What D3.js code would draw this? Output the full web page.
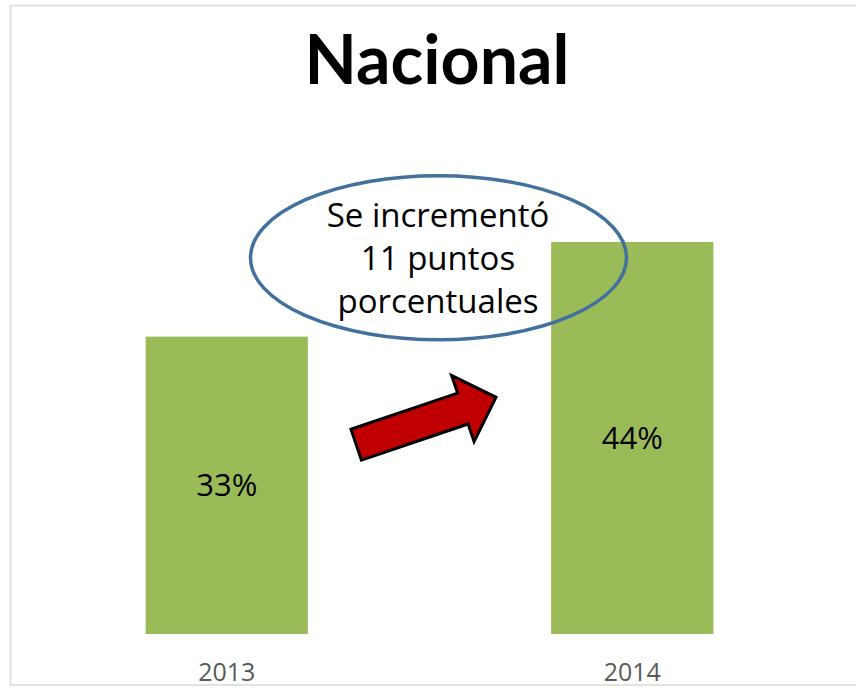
<!DOCTYPE html>
<html>
<head>
<meta charset="utf-8">
<script src="https://cdn.jsdelivr.net/npm/d3@7"></script>
<style>
  html, body { margin: 0; padding: 0; background: #fff; }
  svg { display: block; }
</style>
</head>
<body>
<svg id="chart" width="856" height="688"></svg>
<script>
// ---- data ----
const title = "Nacional";
const categories = ["2013", "2014"];
const values = [33.3, 43.9];          // percent
const valueLabels = ["33%", "44%"];
const noteLines = ["Se incrementó", "11 puntos", "porcentuales"];

// ---- layout ----
const svg = d3.select("#chart");

// chart border (extends beyond right edge as in reference)
svg.append("rect")
  .attr("x", 10.5).attr("y", 5.5)
  .attr("width", 860).attr("height", 679.5)
  .attr("fill", "#fff")
  .attr("stroke", "#d9d9d9").attr("stroke-width", 1.5);

const x = d3.scaleBand()
  .domain(categories)
  .range([24, 835])
  .paddingInner(0.6)
  .paddingOuter(0.3);

const y = d3.scaleLinear()
  .domain([0, 50])
  .range([634, 634 - 50 * 8.93]);

// title
svg.append("text")
  .attr("x", 437).attr("y", 84)
  .attr("text-anchor", "middle")
  .attr("font-family", "Lato, 'Open Sans', sans-serif")
  .attr("font-weight", "bold")
  .attr("font-size", 68)
  .attr("fill", "#000")
  .text(title);

// bars
svg.append("g").selectAll("rect")
  .data(values)
  .join("rect")
  .attr("x", (d, i) => x(categories[i]))
  .attr("y", d => y(d))
  .attr("width", x.bandwidth())
  .attr("height", d => y(0) - y(d))
  .attr("fill", "#9bbb59");

// value labels
svg.append("g").selectAll("text")
  .data(values)
  .join("text")
  .attr("x", (d, i) => x(categories[i]) + x.bandwidth() / 2)
  .attr("y", d => (y(d) + y(0)) / 2 + 11)
  .attr("text-anchor", "middle")
  .attr("font-family", "'Open Sans', sans-serif")
  .attr("font-size", 31)
  .attr("fill", "#000")
  .text((d, i) => valueLabels[i]);

// category axis labels
const xAxis = d3.axisBottom(x).tickSize(0).tickPadding(0);
const gx = svg.append("g")
  .attr("transform", `translate(0, ${y(0)})`)
  .call(xAxis);
gx.select(".domain").remove();
gx.selectAll("text")
  .attr("y", 47)
  .attr("dy", 0)
  .attr("font-family", "'Open Sans', sans-serif")
  .attr("font-size", 25)
  .attr("fill", "#595959");

// arrow annotation
const tail = [356.2, 444.7], tip = [496, 397.3];
const len = Math.hypot(tip[0] - tail[0], tip[1] - tail[1]);
const ang = Math.atan2(tip[1] - tail[1], tip[0] - tail[0]) * 180 / Math.PI;
const sh = 16.3, hh = 35, hl = 35;
const arrowPts = [
  [0, -sh], [len - hl, -sh], [len - hl, -hh], [len, 0],
  [len - hl, hh], [len - hl, sh], [0, sh]
];
svg.append("polygon")
  .attr("points", arrowPts.map(p => p.join(",")).join(" "))
  .attr("transform", `translate(${tail[0]},${tail[1]}) rotate(${ang})`)
  .attr("fill", "#c00000")
  .attr("stroke", "#000")
  .attr("stroke-width", 3)
  .attr("stroke-linejoin", "miter");

// ellipse note
svg.append("ellipse")
  .attr("cx", 438.5).attr("cy", 257.7)
  .attr("rx", 188).attr("ry", 82)
  .attr("fill", "none")
  .attr("stroke", "#41719c")
  .attr("stroke-width", 3.5);

svg.append("g").selectAll("text")
  .data(noteLines)
  .join("text")
  .attr("x", 438)
  .attr("y", (d, i) => 227 + i * 43)
  .attr("text-anchor", "middle")
  .attr("font-family", "'Open Sans', sans-serif")
  .attr("font-size", 33)
  .attr("fill", "#000")
  .text(d => d);
</script>
</body>
</html>
